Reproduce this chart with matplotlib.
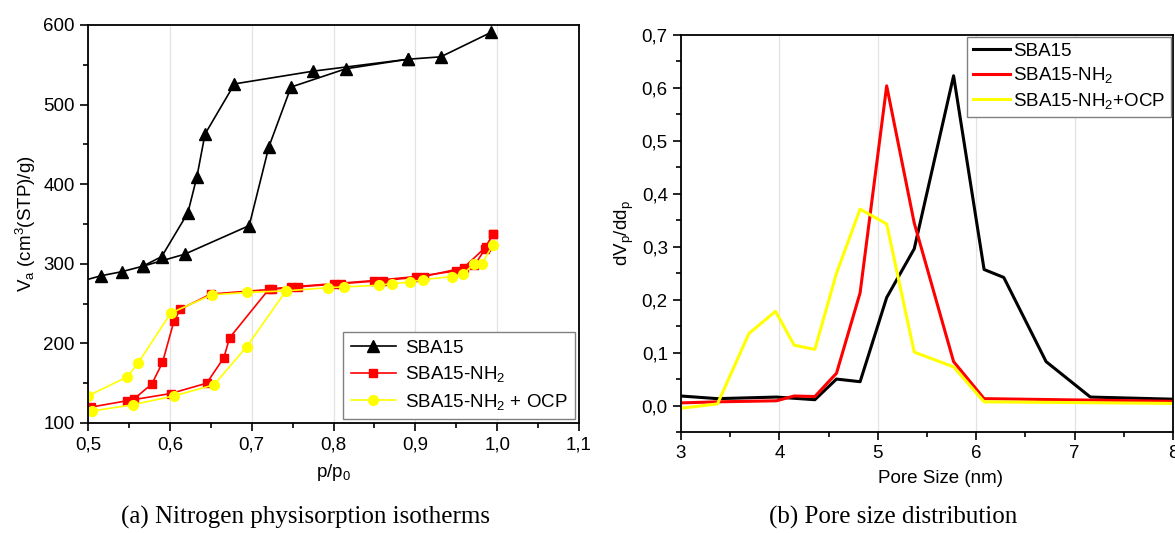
import numpy as np
import matplotlib
matplotlib.use('Agg')
import matplotlib.pyplot as plt
from matplotlib.ticker import MultipleLocator, FuncFormatter

# (a) isotherms: adsorption and desorption branches
sba_ads_p = [0.47, 0.516, 0.541, 0.567, 0.618, 0.697, 0.721, 0.748, 0.815, 0.891, 0.931, 0.993]
sba_ads_v = [272, 285, 290, 297, 312, 348, 447, 522, 545, 557, 560, 591]
sba_des_p = [0.891, 0.775, 0.679, 0.643, 0.633, 0.622, 0.590, 0.567]
sba_des_v = [557, 542, 526, 463, 409, 364, 309, 297]

nh2_ads_p = [0.504, 0.548, 0.601, 0.645, 0.666, 0.673, 0.721, 0.748, 0.800, 0.850, 0.901, 0.950, 0.972, 0.985, 0.995]
nh2_ads_v = [120, 128, 137, 150, 182, 207, 268, 271, 275, 279, 284, 291, 298, 318, 338]
nh2_des_p = [0.995, 0.986, 0.959, 0.910, 0.861, 0.809, 0.757, 0.725, 0.650, 0.613, 0.605, 0.591, 0.578, 0.556]
nh2_des_v = [338, 321, 295, 284, 279, 275, 271, 268, 262, 243, 228, 176, 149, 130]

ocp_ads_p = [0.505, 0.555, 0.605, 0.654, 0.694, 0.742, 0.793, 0.813, 0.856, 0.871, 0.893, 0.909, 0.945, 0.958, 0.972, 0.981, 0.995]
ocp_ads_v = [115, 123, 134, 148, 196, 266, 270, 271, 273, 275, 277, 280, 284, 287, 300, 300, 324]
ocp_des_p = [0.742, 0.694, 0.651, 0.601, 0.561, 0.548, 0.500]
ocp_des_v = [266, 264, 261, 238, 175, 158, 134]

# (b) pore size distribution
sba_d = [3.0, 3.37, 3.97, 4.36, 4.58, 4.82, 5.09, 5.37, 5.77, 6.08, 6.28, 6.71, 7.16, 8.0]
sba_dv = [0.018, 0.013, 0.016, 0.011, 0.050, 0.045, 0.204, 0.296, 0.623, 0.257, 0.242, 0.083, 0.016, 0.012]
nh2_d = [3.0, 3.37, 3.97, 4.15, 4.36, 4.58, 4.82, 5.09, 5.37, 5.77, 6.08, 8.0]
nh2_dv = [0.005, 0.007, 0.009, 0.018, 0.017, 0.061, 0.213, 0.604, 0.345, 0.083, 0.013, 0.008]
ocp_d = [3.0, 3.37, 3.69, 3.96, 4.15, 4.36, 4.58, 4.82, 5.09, 5.37, 5.77, 6.08, 8.0]
ocp_dv = [-0.005, 0.003, 0.136, 0.178, 0.114, 0.106, 0.250, 0.371, 0.343, 0.101, 0.073, 0.007, 0.004]

plt.rcParams['font.family'] = ['Liberation Sans', 'DejaVu Sans']
plt.rcParams['mathtext.default'] = 'regular'
plt.rcParams['font.size'] = 13.5

YEL = '#ffff00'
RED = '#ff0000'


def comma(fmt):
    return FuncFormatter(lambda v, pos: (fmt % v).replace('.', ','))


def style_axes(ax):
    ax.tick_params(which='both', direction='out', top=False, right=False, width=1.2)
    ax.tick_params(which='major', length=6, labelsize=13.5)
    ax.tick_params(which='minor', length=3.5)
    for s in ax.spines.values():
        s.set_linewidth(1.3)
    ax.grid(True, axis='x', which='major', color='#e3e3e3', lw=0.9)
    ax.set_axisbelow(True)


fig = plt.figure(figsize=(11.75, 5.33), dpi=100)
ax1 = fig.add_axes([0.0749, 0.2064, 0.4179, 0.7467])
ax2 = fig.add_axes([0.5796, 0.1895, 0.4187, 0.7448])

# ---- (a)
ax1.plot(sba_ads_p, sba_ads_v, '-^', color='k', lw=1.2, ms=8, label='SBA15')
ax1.plot(sba_des_p, sba_des_v, '-^', color='k', lw=1.2, ms=8)
ax1.plot(nh2_ads_p, nh2_ads_v, '-s', color=RED, lw=1.2, ms=6, label='SBA15-NH$_2$')
ax1.plot(nh2_des_p, nh2_des_v, '-s', color=RED, lw=1.2, ms=6)
ax1.plot(ocp_ads_p, ocp_ads_v, '-o', color=YEL, lw=1.2, ms=7, label='SBA15-NH$_2$ + OCP')
ax1.plot(ocp_des_p, ocp_des_v, '-o', color=YEL, lw=1.2, ms=7)
ax1.set_xlim(0.5, 1.1)
ax1.set_ylim(100, 600)
ax1.xaxis.set_major_locator(MultipleLocator(0.1))
ax1.xaxis.set_minor_locator(MultipleLocator(0.05))
ax1.yaxis.set_major_locator(MultipleLocator(100))
ax1.yaxis.set_minor_locator(MultipleLocator(50))
ax1.xaxis.set_major_formatter(comma('%.1f'))
style_axes(ax1)
ax1.set_xlabel('p/p$_0$', fontsize=13.5, labelpad=6)
ax1.set_ylabel('V$_a$ (cm$^3$(STP)/g)', fontsize=13.5, labelpad=4)
leg = ax1.legend(loc='lower right', fontsize=13.5, fancybox=False, edgecolor='#808080',
                 framealpha=1, handlelength=2.4, handletextpad=0.5, borderaxespad=0.2,
                 labelspacing=0.4)
leg.get_frame().set_linewidth(1.0)

# ---- (b)
ax2.plot(sba_d, sba_dv, '-', color='k', lw=2.2, label='SBA15')
ax2.plot(nh2_d, nh2_dv, '-', color=RED, lw=2.2, label='SBA15-NH$_2$')
ax2.plot(ocp_d, ocp_dv, '-', color=YEL, lw=2.2, label='SBA15-NH$_2$+OCP')
ax2.set_xlim(3, 8)
ax2.set_ylim(-0.05, 0.7)
ax2.xaxis.set_major_locator(MultipleLocator(1))
ax2.xaxis.set_minor_locator(MultipleLocator(0.5))
ax2.yaxis.set_major_locator(MultipleLocator(0.1))
ax2.yaxis.set_minor_locator(MultipleLocator(0.05))
ax2.yaxis.set_major_formatter(comma('%.1f'))
style_axes(ax2)
ax2.set_xlabel('Pore Size (nm)', fontsize=13.5, labelpad=6)
ax2.xaxis.set_label_coords(0.528, -0.095)
ax2.set_ylabel('dV$_p$/dd$_p$', fontsize=13.5, labelpad=4)
leg2 = ax2.legend(loc='upper right', fontsize=13.5, fancybox=False, edgecolor='#808080',
                  framealpha=1, handlelength=2.0, handletextpad=0.15, borderpad=0.3,
                  borderaxespad=0.1, labelspacing=0.3)
leg2.get_frame().set_linewidth(1.0)

# captions
fig.text(0.26, 0.03, '(a) Nitrogen physisorption isotherms', ha='center', va='center',
         family=['Liberation Serif', 'DejaVu Serif'], fontsize=18)
fig.text(0.76, 0.03, '(b) Pore size distribution', ha='center', va='center',
         family=['Liberation Serif', 'DejaVu Serif'], fontsize=18)

fig.savefig('out.png', dpi=100)
